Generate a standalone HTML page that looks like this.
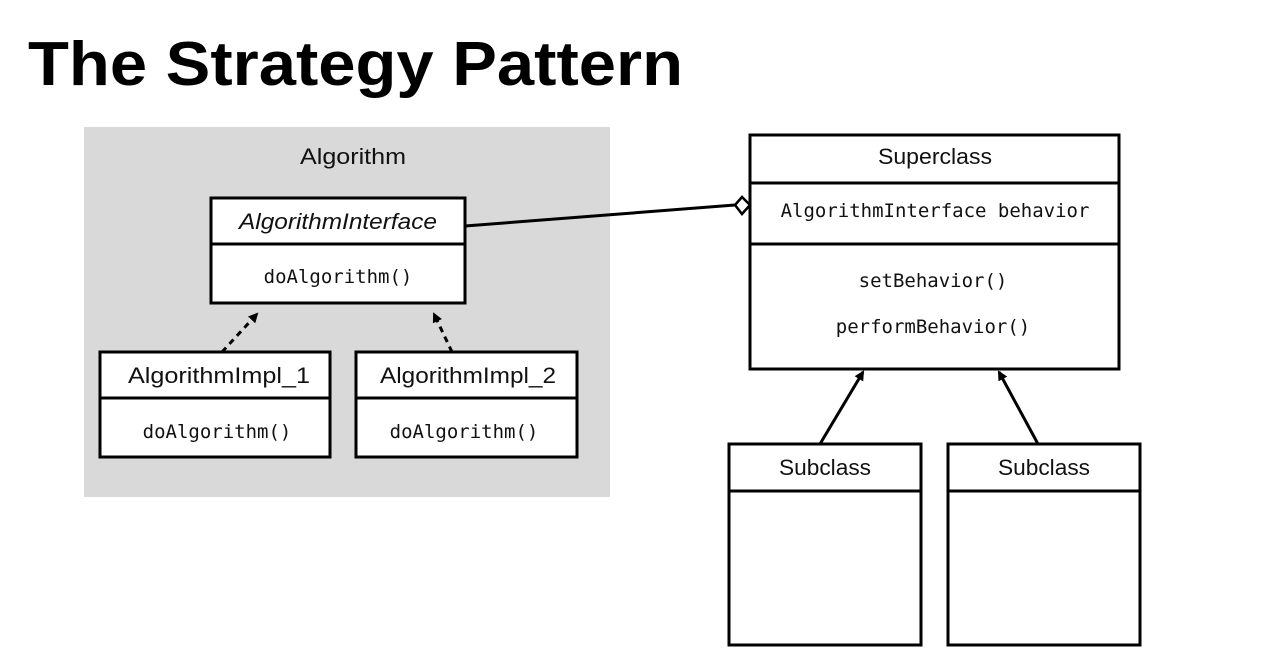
<!DOCTYPE html>
<html><head><style>
html,body{margin:0;padding:0;background:#fff;width:1267px;height:655px;overflow:hidden}
svg{display:block}
.s{font-family:"Liberation Sans",sans-serif;font-size:22px;fill:#111}
.m{font-family:"DejaVu Sans Mono","Liberation Mono",monospace;font-size:19px;fill:#111}
</style></head><body>
<svg width="1267" height="655" viewBox="0 0 1267 655">
<defs>
<marker id="ah" markerWidth="10" markerHeight="10" refX="8" refY="5" orient="auto" markerUnits="userSpaceOnUse"><path d="M0,0 L10,5 L0,10 Z" fill="#000"/></marker>
</defs>
<text x="28" y="85" font-family="Liberation Sans,sans-serif" font-weight="bold" font-size="62" textLength="655" lengthAdjust="spacingAndGlyphs" fill="#000">The Strategy Pattern</text>
<rect x="84" y="127" width="526" height="370" fill="#d9d9da"/>
<text class="s" x="353" y="164" text-anchor="middle" textLength="106" lengthAdjust="spacingAndGlyphs">Algorithm</text>
<g stroke="#000" stroke-width="3" fill="#fff">
<rect x="211" y="198" width="254" height="105"/><line x1="211" y1="244" x2="465" y2="244"/>
<rect x="100" y="352" width="230" height="105"/><line x1="100" y1="398" x2="330" y2="398"/>
<rect x="356" y="352" width="221" height="105"/><line x1="356" y1="398" x2="577" y2="398"/>
<rect x="750" y="135" width="369" height="234"/><line x1="750" y1="183" x2="1119" y2="183"/><line x1="750" y1="244" x2="1119" y2="244"/>
<rect x="729" y="444" width="192" height="201"/><line x1="729" y1="491" x2="921" y2="491"/>
<rect x="948" y="444" width="192" height="201"/><line x1="948" y1="491" x2="1140" y2="491"/>
</g>
<text class="s" x="338" y="229" text-anchor="middle" font-style="italic" textLength="198" lengthAdjust="spacingAndGlyphs">AlgorithmInterface</text>
<text class="m" x="338" y="283" text-anchor="middle">doAlgorithm()</text>
<text class="s" x="219" y="383" text-anchor="middle" textLength="182" lengthAdjust="spacingAndGlyphs">AlgorithmImpl_1</text>
<text class="m" x="217" y="438" text-anchor="middle">doAlgorithm()</text>
<text class="s" x="468" y="383" text-anchor="middle" textLength="176" lengthAdjust="spacingAndGlyphs">AlgorithmImpl_2</text>
<text class="m" x="464" y="438" text-anchor="middle">doAlgorithm()</text>
<text class="s" x="935" y="164" text-anchor="middle" textLength="114" lengthAdjust="spacingAndGlyphs">Superclass</text>
<text class="m" x="935" y="217" text-anchor="middle">AlgorithmInterface behavior</text>
<text class="m" x="933" y="287" text-anchor="middle">setBehavior()</text>
<text class="m" x="933" y="333" text-anchor="middle">performBehavior()</text>
<text class="s" x="825" y="475" text-anchor="middle" textLength="92" lengthAdjust="spacingAndGlyphs">Subclass</text>
<text class="s" x="1044" y="475" text-anchor="middle" textLength="92" lengthAdjust="spacingAndGlyphs">Subclass</text>
<g stroke="#000" stroke-width="3" fill="none">
<line x1="465" y1="226" x2="735" y2="205"/>
<path d="M735,205 L742,197 L750,205 L742,214 Z" fill="#fff" stroke-width="2.5"/>
<line x1="222" y1="352" x2="257" y2="314" stroke-dasharray="6,5" marker-end="url(#ah)"/>
<line x1="452" y1="352" x2="434" y2="314" stroke-dasharray="6,5" marker-end="url(#ah)"/>
<line x1="820" y1="444" x2="863" y2="372" marker-end="url(#ah)"/>
<line x1="1038" y1="444" x2="999" y2="372" marker-end="url(#ah)"/>
</g>
</svg>
</body></html>
